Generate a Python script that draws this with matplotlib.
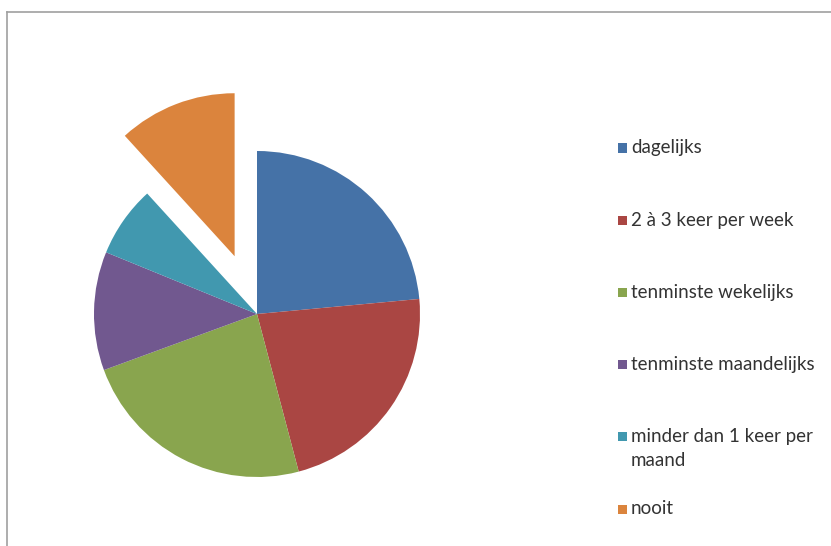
import matplotlib
matplotlib.use('Agg')
import matplotlib.pyplot as plt
from matplotlib.patches import Rectangle
from matplotlib.lines import Line2D

labels = ['dagelijks', '2 à 3 keer per week', 'tenminste wekelijks',
          'tenminste maandelijks', 'minder dan 1 keer per\nmaand', 'nooit']
counts = [20, 19, 20, 10, 6, 10]
colors = ['#4572A7', '#AA4643', '#89A54E', '#71588F', '#4198AF', '#DB843D']
explode = [0, 0, 0, 0, 0, 0.38]

W, H = 831, 546
fig = plt.figure(figsize=(W / 100, H / 100), dpi=100)
fig.patch.set_facecolor('white')

# pie centred at about (257, 314) px with radius 163 px
cx, cy, r = 257, 314, 163
ax = fig.add_axes([(cx - r) / W, 1 - (cy + r) / H, 2 * r / W, 2 * r / H])
ax.pie(counts, colors=colors, explode=explode, startangle=90, counterclock=False,
       radius=1, wedgeprops=dict(linewidth=0), frame=False)
ax.set_xlim(-1, 1)
ax.set_ylim(-1, 1)
ax.set_aspect('equal')
ax.axis('off')

# legend drawn by hand, first line of each entry 72 px apart,
# wrapped lines 24 px apart
y0, step, lstep = 148, 72.2, 24
for i, (lab, col) in enumerate(zip(labels, colors)):
    y = y0 + i * step
    fig.patches.append(Rectangle((618 / W, 1 - (y + 4.5) / H), 9 / W, 9 / H,
                                 transform=fig.transFigure, facecolor=col,
                                 edgecolor='none'))
    for k, line in enumerate(lab.split('\n')):
        fig.text(631 / W, 1 - (y + 5.5 + k * lstep) / H, line, family='Lato',
                 fontsize=13.5, color='#333333', va='baseline', ha='left',
                 transform=fig.transFigure)

# thin grey frame along the top and left edges
fig.lines.append(Line2D([7 / W, 1], [1 - 12 / H, 1 - 12 / H],
                        transform=fig.transFigure, color='#a0a0a0', lw=1.2))
fig.lines.append(Line2D([7 / W, 7 / W], [0, 1 - 12 / H],
                        transform=fig.transFigure, color='#a0a0a0', lw=1.2))

fig.savefig('out.png', dpi=100)
